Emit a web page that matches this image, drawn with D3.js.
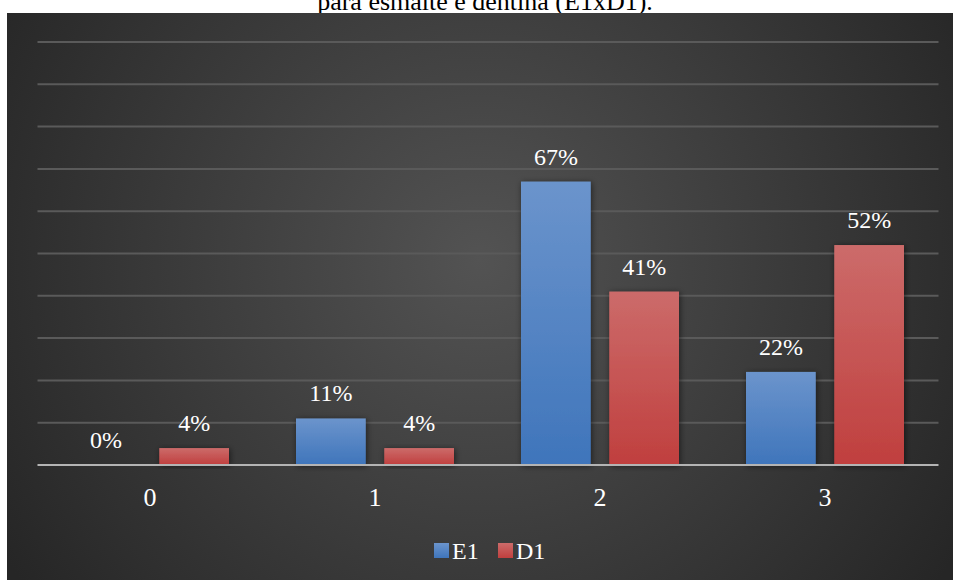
<!DOCTYPE html>
<html>
<head>
<meta charset="utf-8">
<script src="https://cdn.jsdelivr.net/npm/d3@7"></script>
<style>
  html, body { margin: 0; padding: 0; background: #ffffff; }
  svg { display: block; }
  svg text { font-family: "Liberation Serif", "Times New Roman", serif; }
</style>
</head>
<body>
<svg id="chart" width="953" height="580"></svg>
<script>
// Categories and series (percentages)
const categories = ["0", "1", "2", "3"];
const seriesNames = ["E1", "D1"];
const e1Values = [0, 11, 67, 22];
const d1Values = [4, 4, 41, 52];
const yTicks = [0, 10, 20, 30, 40, 50, 60, 70, 80, 90, 100];

const W = 953, H = 580;
const serif = '"Liberation Serif", "Times New Roman", serif';
const svg = d3.select("#chart");
const defs = svg.append("defs");

// Dark panel with radial shading
const bgGrad = defs.append("radialGradient").attr("id", "bgGrad")
  .attr("gradientUnits", "userSpaceOnUse")
  .attr("cx", 480).attr("cy", 260).attr("r", 560);
bgGrad.append("stop").attr("offset", "0%").attr("stop-color", "#535353");
bgGrad.append("stop").attr("offset", "100%").attr("stop-color", "#262626");

const blueGrad = defs.append("linearGradient").attr("id", "blueGrad")
  .attr("x1", 0).attr("y1", 0).attr("x2", 0).attr("y2", 1);
blueGrad.append("stop").attr("offset", "0%").attr("stop-color", "#6b94cc");
blueGrad.append("stop").attr("offset", "100%").attr("stop-color", "#3f75bb");

const redGrad = defs.append("linearGradient").attr("id", "redGrad")
  .attr("x1", 0).attr("y1", 0).attr("x2", 0).attr("y2", 1);
redGrad.append("stop").attr("offset", "0%").attr("stop-color", "#cc6b6a");
redGrad.append("stop").attr("offset", "100%").attr("stop-color", "#c03f3e");

const shadow = defs.append("filter").attr("id", "shadow")
  .attr("x", "-20%").attr("y", "-20%").attr("width", "140%").attr("height", "140%");
shadow.append("feDropShadow").attr("dx", 1).attr("dy", 1).attr("stdDeviation", 3)
  .attr("flood-color", "#000").attr("flood-opacity", 0.55);

// Title (only its lower part shows above the panel)
svg.append("text")
  .attr("x", 485).attr("y", 10)
  .attr("text-anchor", "middle")
  .style("font-family", serif)
  .style("font-size", "26px")
  .attr("fill", "#000")
  .text("para esmalte e dentina (E1xD1).");

svg.append("rect").attr("x", 7).attr("y", 13).attr("width", W - 7).attr("height", H - 13)
  .attr("fill", "url(#bgGrad)");

// Scales
const plot = { left: 37.5, right: 937.5, top: 42, bottom: 465 };
const x = d3.scaleBand().domain(categories).range([plot.left, plot.right]);
const y = d3.scaleLinear().domain([0, 100]).range([plot.bottom, plot.top]);
const sub = d3.scaleBand().domain(seriesNames).range([-79, 79]).paddingInner(0.21);

// Gridlines
svg.append("g").selectAll("line")
  .data(yTicks.filter(t => t > 0))
  .join("line")
  .attr("x1", plot.left).attr("x2", plot.right + 1)
  .attr("y1", d => y(d)).attr("y2", d => y(d))
  .attr("stroke", "#5a5a5a").attr("stroke-width", 2);

// Bars
const rows = categories.map((c, i) => ({ cat: c, vals: [
  { s: "E1", v: e1Values[i], fill: "url(#blueGrad)" },
  { s: "D1", v: d1Values[i], fill: "url(#redGrad)" }
]}));

const groups = svg.append("g").selectAll("g")
  .data(rows).join("g")
  .attr("transform", d => `translate(${x(d.cat) + x.bandwidth() / 2},0)`);

groups.selectAll("rect")
  .data(d => d.vals.filter(v => v.v > 0))
  .join("rect")
  .attr("x", d => sub(d.s))
  .attr("width", sub.bandwidth())
  .attr("y", d => y(d.v))
  .attr("height", d => y(0) - y(d.v))
  .attr("fill", d => d.fill)
  .attr("filter", "url(#shadow)");

// Value labels
groups.selectAll("text")
  .data(d => d.vals)
  .join("text")
  .attr("x", d => sub(d.s) + sub.bandwidth() / 2)
  .attr("y", d => y(d.v) - 17)
  .attr("text-anchor", "middle")
  .style("font-family", serif)
  .style("font-size", "24px")
  .attr("fill", "#ffffff")
  .text(d => d.v + "%");

// Baseline / x axis
const xAxis = svg.append("g").attr("transform", `translate(0,${plot.bottom})`)
  .call(d3.axisBottom(x).tickSize(0));
xAxis.attr("font-family", null).attr("font-size", null);
xAxis.select(".domain").attr("stroke", "#b4b4b4").attr("stroke-width", 2)
  .attr("d", `M${plot.left},0H${plot.right + 1}`);
xAxis.selectAll(".tick text")
  .attr("y", 41).attr("dy", 0)
  .style("font-family", serif)
  .style("font-size", "26px")
  .attr("fill", "#ffffff");

// Legend
const legend = svg.append("g").attr("transform", "translate(434,543)");
const legendItems = [
  { name: "E1", fill: "url(#blueGrad)", x: 0 },
  { name: "D1", fill: "url(#redGrad)", x: 64 }
];
const li = legend.selectAll("g").data(legendItems).join("g")
  .attr("transform", d => `translate(${d.x},0)`);
li.append("rect").attr("x", 0).attr("y", 0).attr("width", 15).attr("height", 15)
  .attr("fill", d => d.fill);
li.append("text").attr("x", 18).attr("y", 16)
  .style("font-family", serif)
  .style("font-size", "24px")
  .attr("fill", "#ffffff")
  .text(d => d.name);
</script>
</body>
</html>
